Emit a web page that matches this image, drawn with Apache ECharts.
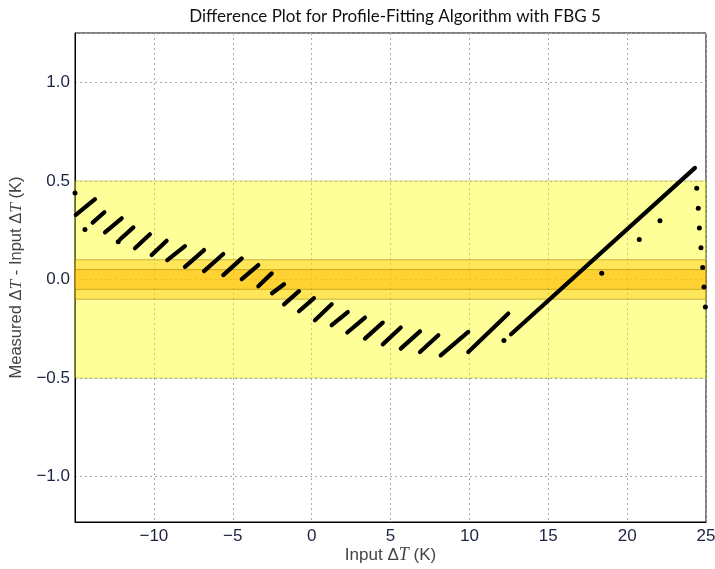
<!DOCTYPE html>
<html>
<head>
<meta charset="utf-8">
<script src="https://cdn.jsdelivr.net/npm/echarts@6/dist/echarts.min.js"></script>
<style>
html,body{margin:0;padding:0;background:#fff;}
#chart{width:715px;height:569px;}
</style>
</head>
<body>
<div id="chart"></div>
<script>
// Dash segments (start/end)
const dashX0 = [-14.95, -13.88, -13.10, -12.15, -11.20, -10.14, -9.15, -8.03, -6.82, -5.60, -4.43, -3.38, -2.51, -1.75, -0.80, 0.21, 1.27, 2.26, 3.38, 4.51, 5.65, 6.87, 8.18, 9.93, 12.64];
const dashY0 = [0.327, 0.288, 0.239, 0.203, 0.158, 0.124, 0.098, 0.064, 0.042, 0.022, 0.002, -0.034, -0.070, -0.126, -0.161, -0.207, -0.232, -0.269, -0.300, -0.329, -0.351, -0.368, -0.385, -0.368, -0.278];
const dashX1 = [-13.73, -13.14, -12.04, -11.30, -10.25, -9.19, -8.03, -6.82, -5.60, -4.43, -3.38, -2.53, -1.75, -0.80, 0.15, 1.27, 2.29, 3.38, 4.51, 5.65, 6.87, 8.03, 9.93, 12.47, 24.30];
const dashY1 = [0.407, 0.341, 0.310, 0.264, 0.229, 0.196, 0.169, 0.149, 0.129, 0.107, 0.073, 0.031, -0.024, -0.059, -0.095, -0.126, -0.165, -0.193, -0.219, -0.244, -0.263, -0.283, -0.266, -0.173, 0.566];
// Isolated points
const dotX = [-15.0, -14.37, -12.26, 12.19, 18.39, 20.77, 22.08, 24.41, 24.51, 24.58, 24.68, 24.79, 24.87, 24.96];
const dotY = [0.439, 0.254, 0.191, -0.309, 0.031, 0.203, 0.298, 0.463, 0.361, 0.261, 0.161, 0.061, -0.038, -0.139];
// Tolerance bands (half widths)
const bandHalf = [0.5, 0.1, 0.05];
const bandColor = ['rgba(255,255,0,0.40)', 'rgba(255,195,0,0.42)', 'rgba(255,185,0,0.45)'];
const bandBorder = ['rgba(150,150,0,0.35)', 'rgba(150,120,0,0.5)', 'rgba(150,120,0,0.5)'];

const chart = echarts.init(document.getElementById('chart'), null, {renderer: 'canvas'});
const fmtMinus = s => s.replace('-', '\u2212');

const series = [];
series.push({
  type: 'line', data: [], z: 1, silent: true, animation: false,
  markArea: {
    silent: true,
    data: bandHalf.map((h, i) => [
      {yAxis: -h, itemStyle: {color: bandColor[i], borderColor: bandBorder[i], borderWidth: 1}},
      {yAxis: h}
    ])
  }
});
for (let i = 0; i < dashX0.length; i++) {
  series.push({
    type: 'line', z: 3, silent: true, animation: false, symbol: 'none',
    data: [[dashX0[i], dashY0[i]], [dashX1[i], dashY1[i]]],
    lineStyle: {color: '#000', width: 4.2, cap: 'round'}
  });
}
series.push({
  type: 'scatter', z: 4, silent: true, animation: false,
  symbolSize: 5,
  itemStyle: {color: '#000', opacity: 1},
  data: dotX.map((x, i) => [x, dotY[i]])
});

const gridLine = {show: true, lineStyle: {color: '#aaaaaa', type: [2, 3], width: 1}};
const labelColor = '#1c2340';
const sans = 'Arial, "Liberation Sans", Helvetica, sans-serif';

chart.setOption({
  animation: false,
  backgroundColor: '#fff',
  title: {
    text: 'Difference Plot for Profile-Fitting Algorithm with FBG 5',
    left: 390, top: 3, textAlign: 'center',
    textStyle: {fontFamily: 'Lato', fontSize: 17, fontWeight: 'normal', color: '#111'}
  },
  grid: {left: 75, right: 9, top: 33, bottom: 47, show: true, borderColor: '#000', borderWidth: 1,
    containLabel: false, outerBoundsMode: 'none'},
  xAxis: {
    type: 'value', min: -15, max: 25, interval: 5,
    axisLine: {show: true, onZero: false, lineStyle: {color: '#000'}},
    axisTick: {show: false},
    splitLine: gridLine,
    axisLabel: {showMinLabel: false, fontFamily: sans, fontSize: 17, color: labelColor, margin: 6,
      formatter: v => fmtMinus(String(v))},
    name: 'Input \u0394{i|T} (K)', nameLocation: 'middle', nameGap: 24, nameMoveOverlap: false,
    nameTextStyle: {fontFamily: sans, fontSize: 17, color: '#444',
      rich: {i: {fontFamily: '"Liberation Serif", serif', fontStyle: 'italic', fontSize: 18, color: '#444'}}}
  },
  yAxis: {
    type: 'value', min: -1.23, max: 1.25,
    axisLine: {show: true, onZero: false, lineStyle: {color: '#000'}},
    axisTick: {show: false},
    splitLine: gridLine,
    axisLabel: {showMinLabel: false, showMaxLabel: false, fontFamily: sans, fontSize: 17, color: labelColor, margin: 5,
      formatter: v => fmtMinus(v.toFixed(1))},
    name: 'Measured \u0394{i|T} - Input \u0394{i|T} (K)', nameLocation: 'middle', nameGap: 48,
    nameTextStyle: {fontFamily: sans, fontSize: 16.5, color: '#444',
      rich: {i: {fontFamily: '"Liberation Serif", serif', fontStyle: 'italic', fontSize: 17.5, color: '#444'}}}
  },
  series: series
});
</script>
</body>
</html>
